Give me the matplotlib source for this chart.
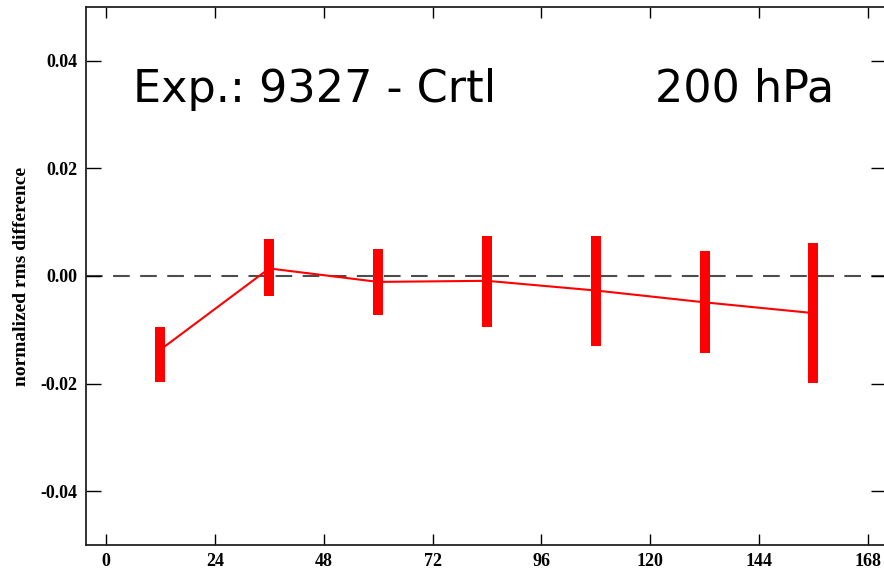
import matplotlib
matplotlib.use("Agg")
import matplotlib.pyplot as plt

# forecast lead time (h) and normalized rms difference, 9327 minus control at 200 hPa
lead_hours = [12, 36, 60, 84, 108, 132, 156]
mean_diff = [-0.0137, 0.0014, -0.0011, -0.0009, -0.0027, -0.0049, -0.0069]
ci_low = [-0.0197, -0.0037, -0.0073, -0.0094, -0.0130, -0.0144, -0.0199]
ci_high = [-0.0094, 0.0068, 0.0051, 0.0074, 0.0074, 0.0046, 0.0061]

x_ticks = [0, 24, 48, 72, 96, 120, 144, 168]
y_ticks = [-0.04, -0.02, 0.00, 0.02, 0.04]

fig = plt.figure(figsize=(8.84, 5.77), dpi=100)
ax = fig.add_axes([0.0973, 0.0555, 0.905, 0.9324])

ax.axhline(0.0, color="#4d4d4d", lw=1.5, linestyle=(0, (8, 5)), zorder=1)
ax.plot(lead_hours, mean_diff, color="red", lw=1.5, zorder=2)
ax.vlines(lead_hours, ci_low, ci_high, color="red", lw=7.2,
          capstyle="butt", zorder=3)

ax.set_xlim(-4.4, 172.0)
ax.set_ylim(-0.05, 0.05)
ax.set_xticks(x_ticks)
ax.set_yticks(y_ticks)
ax.set_yticklabels([f"{v:.2f}" for v in y_ticks])

tick_font = {"family": "Liberation Serif", "weight": "bold", "size": 13}
for lab in ax.get_xticklabels() + ax.get_yticklabels():
    lab.set_fontproperties(tick_font)

ax.tick_params(axis="y", direction="in", length=11, width=1.0,
               left=True, right=True, pad=6, colors="black")
ax.tick_params(axis="x", direction="in", length=8, width=1.0,
               bottom=True, top=True, pad=6, colors="black")
for sp in ax.spines.values():
    sp.set_linewidth(1.3)
    sp.set_color("#222222")

ax.set_ylabel("normalized rms difference", family="Liberation Serif",
              weight="bold", fontsize=14, labelpad=8)

ax.text(6.0, 0.0324, "Exp.: 9327 - Crtl", fontsize=32, family="DejaVu Sans",
        va="baseline", ha="left")
ax.text(121.0, 0.0324, "200 hPa", fontsize=32, family="DejaVu Sans",
        va="baseline", ha="left")

fig.savefig("out.png", dpi=100)
plt.close(fig)
